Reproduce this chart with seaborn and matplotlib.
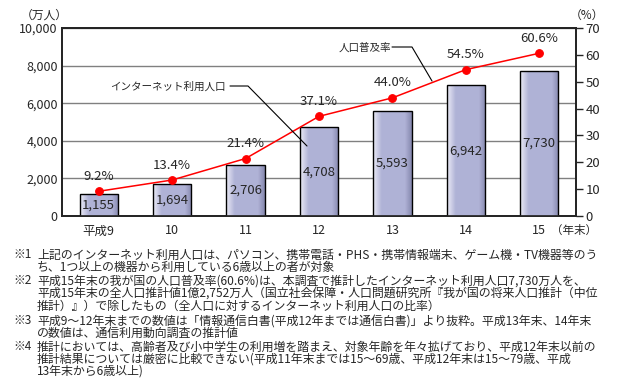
import numpy as np
import pandas as pd
import matplotlib
matplotlib.use('Agg')
import matplotlib.pyplot as plt
import seaborn as sns

# data
years = ['平成9', '10', '11', '12', '13', '14', '15']
users = [1155, 1694, 2706, 4708, 5593, 6942, 7730]       # 万人
rates = [9.2, 13.4, 21.4, 37.1, 44.0, 54.5, 60.6]         # %
user_labels = ['1,155', '1,694', '2,706', '4,708', '5,593', '6,942', '7,730']
rate_labels = ['9.2%', '13.4%', '21.4%', '37.1%', '44.0%', '54.5%', '60.6%']
left_ticks = [0, 2000, 4000, 6000, 8000, 10000]
left_ticklabels = ['0', '2,000', '4,000', '6,000', '8,000', '10,000']
right_ticks = [0, 10, 20, 30, 40, 50, 60, 70]

notes = [
    ('※1', '上記のインターネット利用人口は、パソコン、携帯電話・PHS・携帯情報端末、ゲーム機・TV機器等のう'),
    ('', 'ち、1つ以上の機器から利用している6歳以上の者が対象'),
    ('※2', '平成15年末の我が国の人口普及率(60.6%)は、本調査で推計したインターネット利用人口7,730万人を、'),
    ('', '平成15年末の全人口推計値1億2,752万人（国立社会保障・人口問題研究所『我が国の将来人口推計（中位'),
    ('', '推計）』）で除したもの（全人口に対するインターネット利用人口の比率）'),
    ('※3', '平成9～12年末までの数値は「情報通信白書(平成12年までは通信白書)」より抜粋。平成13年末、14年末'),
    ('', 'の数値は、通信利用動向調査の推計値'),
    ('※4', '推計においては、高齢者及び小中学生の利用増を踏まえ、対象年齢を年々拡げており、平成12年末以前の'),
    ('', '推計結果については厳密に比較できない(平成11年末までは15～69歳、平成12年末は15～79歳、平成'),
    ('', '13年末から6歳以上)'),
]
note_y = [255, 267, 281, 293, 306, 321, 333, 347, 359, 371]

sns.set_style('white')
plt.rcParams['font.family'] = ['Noto Sans CJK JP', 'DejaVu Sans']
plt.rcParams['font.size'] = 8.5

W, H = 621, 389
fig = plt.figure(figsize=(W / 100, H / 100), dpi=100)
ax = fig.add_axes([62 / W, 1 - 216 / H, (576 - 62) / W, (216 - 28) / H])

df = pd.DataFrame({'year': years, 'users': users})
sns.barplot(data=df, x='year', y='users', ax=ax, width=0.52, color='#b0b3d6',
            edgecolor='black', linewidth=1, zorder=3)

# horizontal shading on each bar
grad = np.linspace(0, 1, 256)
cols = np.array([[0.93, 0.93, 0.97], [0.69, 0.70, 0.84], [0.69, 0.70, 0.84],
                 [0.69, 0.70, 0.84], [0.52, 0.53, 0.68]])
stops = np.linspace(0, 1, len(cols))
stops[1] = 0.22
stops[3] = 0.82
img = np.stack([np.interp(grad, stops, cols[:, k]) for k in range(3)], axis=-1)[None, :, :]
for p in ax.patches:
    x0, y0 = p.get_x(), p.get_y()
    im = ax.imshow(img, extent=[x0, x0 + p.get_width(), y0, y0 + p.get_height()],
                   aspect='auto', zorder=3.5, interpolation='bilinear')
    im.set_clip_path(p)
    p.set_facecolor('none')
    p.set_zorder(4)

ax.set_xlim(-0.5, 6.5)
ax.set_ylim(0, 10000)
ax.set_yticks(left_ticks)
ax.set_yticklabels(left_ticklabels)
ax.yaxis.grid(True, color='#808080', linewidth=1)
ax.set_axisbelow(True)
ax.set_xlabel('')
ax.set_ylabel('')
ax.set_xticks(np.arange(len(years)))
ax.set_xticklabels(years)
ax.set_xticks(np.arange(len(years) - 1) + 0.5, minor=True)
ax.tick_params(axis='x', which='major', length=0, pad=6, labelsize=9)
ax.tick_params(axis='x', which='minor', length=4, direction='in', width=1)
ax.tick_params(axis='y', length=0, pad=3, labelsize=9)
for s in ax.spines.values():
    s.set_linewidth(1.2)
    s.set_color('black')

for i, v in enumerate(users):
    ax.text(i, v / 2, user_labels[i], ha='center', va='center', fontsize=9.5, zorder=6)

ax2 = ax.twinx()
sns.pointplot(x=years, y=rates, ax=ax2, color='red', markers='o', markersize=5.5,
              linewidth=1.1, errorbar=None)
ax2.set_xlim(-0.5, 6.5)
ax2.set_ylim(0, 70)
ax2.set_yticks(right_ticks)
ax2.tick_params(axis='y', length=5, width=1, pad=2, labelsize=9.5, direction='out')
ax2.set_ylabel('')
for s in ax2.spines.values():
    s.set_linewidth(1.2)
for i, r in enumerate(rates):
    ax2.annotate(rate_labels[i], (i, r), xytext=(0, 6), textcoords='offset points',
                 ha='center', va='bottom', fontsize=9.5)

# leader annotations (figure pixel coordinates)
def px(x, y):
    return x / W, 1 - y / H

fig.text(*px(226, 87), 'インターネット利用人口', fontsize=7.6, va='center', ha='right')
fig.add_artist(plt.Line2D([230 / W, 248 / W, 307 / W],
                          [1 - 86 / H, 1 - 86 / H, 1 - 146 / H], color='black', lw=0.8))
fig.text(*px(391, 48), '人口普及率', fontsize=7.6, va='center', ha='right')
fig.add_artist(plt.Line2D([392 / W, 412 / W, 432 / W],
                          [1 - 47 / H, 1 - 47 / H, 1 - 81 / H], color='black', lw=0.8))

fig.text(*px(44, 15), '（万人）', fontsize=8.5, va='center', ha='center')
fig.text(*px(587, 15), '（%）', fontsize=8.5, va='center', ha='center')
fig.text(*px(574, 230), '（年末）', fontsize=8.3, va='center', ha='center')

for (mark, txt), y in zip(notes, note_y):
    if mark:
        fig.text(*px(13, y), mark, fontsize=8.6, va='center', ha='left')
    fig.text(*px(37, y), txt, fontsize=8.6, va='center', ha='left')

fig.savefig('out.png', dpi=100)
